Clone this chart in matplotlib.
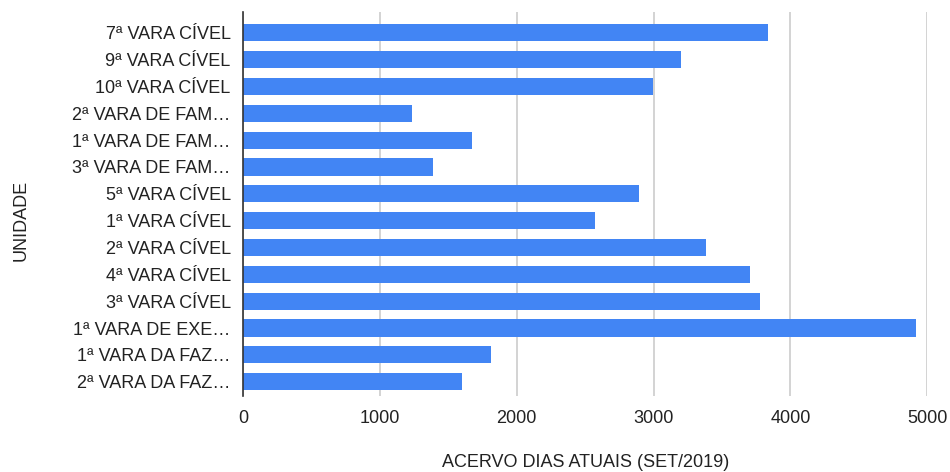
import matplotlib
matplotlib.use('Agg')
import matplotlib.pyplot as plt

plt.rcParams['font.family'] = ['Liberation Sans', 'DejaVu Sans']

unidades = ['7ª VARA CÍVEL', '9ª VARA CÍVEL', '10ª VARA CÍVEL', '2ª VARA DE FAM…',
            '1ª VARA DE FAM…', '3ª VARA DE FAM…', '5ª VARA CÍVEL', '1ª VARA CÍVEL',
            '2ª VARA CÍVEL', '4ª VARA CÍVEL', '3ª VARA CÍVEL', '1ª VARA DE EXE…',
            '1ª VARA DA FAZ…', '2ª VARA DA FAZ…']
acervo = [3836, 3197, 2996, 1232, 1672, 1386, 2894, 2573, 3382, 3706, 3776, 4920, 1815, 1600]
xticks = [0, 1000, 2000, 3000, 4000, 5000]

fig = plt.figure(figsize=(9.5, 4.72), dpi=100)
ax = fig.add_axes([0.256, 0.16, 0.72, 0.815])

y = list(range(len(unidades)))
ax.barh(y, acervo, height=0.64, color='#4285F4', zorder=3)

ax.set_ylim(len(unidades) - 0.45, -0.78)
ax.set_xlim(0, 5000)
ax.set_xticks(xticks)
ax.set_xticklabels([str(v) for v in xticks], fontsize=13, color='#222222')
ax.set_yticks(y)
ax.set_yticklabels(unidades, fontsize=13, color='#222222')
ax.tick_params(axis='y', length=0, pad=9)
ax.tick_params(axis='x', length=0, pad=10)

ax.grid(axis='x', color='#cccccc', linewidth=1.2, zorder=0)
for s in ['top', 'right', 'bottom']:
    ax.spines[s].set_visible(False)
ax.spines['left'].set_color('#333333')
ax.spines['left'].set_linewidth(1.2)
ax.spines['left'].set_zorder(4)

fig.text(0.616, 0.021, 'ACERVO DIAS ATUAIS (SET/2019)', fontsize=13, color='#222222',
         ha='center', va='center')
fig.text(0.022, 0.532, 'UNIDADE', rotation=90, fontsize=13, color='#222222',
         ha='center', va='center')

fig.savefig('out.png', dpi=100)
